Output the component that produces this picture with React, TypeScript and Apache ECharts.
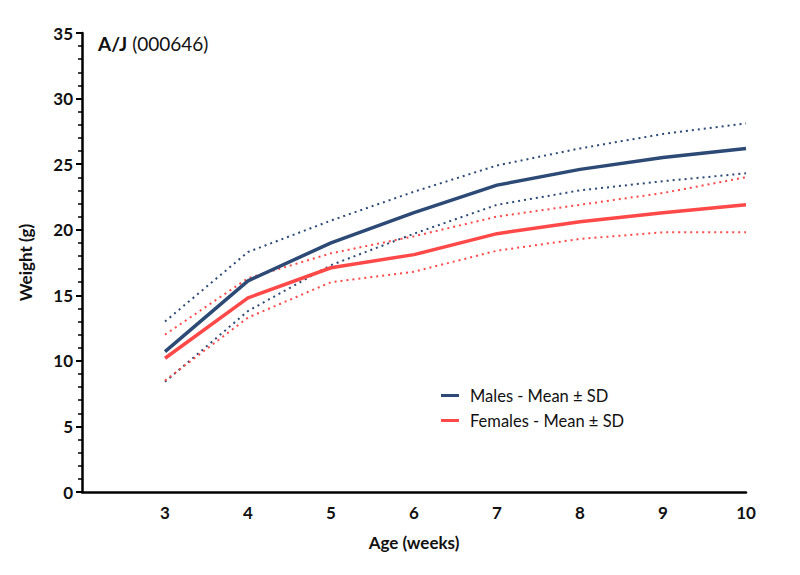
import React, { useEffect, useRef } from "react";
import * as echarts from "echarts";

const ages = [3, 4, 5, 6, 7, 8, 9, 10];
const maleMean = [10.7, 16.1, 19.0, 21.3, 23.4, 24.6, 25.5, 26.2];
const maleUpper = [13.0, 18.3, 20.7, 22.9, 24.9, 26.2, 27.3, 28.1];
const maleLower = [8.4, 13.8, 17.3, 19.7, 21.9, 23.0, 23.7, 24.3];
const femaleMean = [10.2, 14.8, 17.1, 18.1, 19.7, 20.6, 21.3, 21.9];
const femaleUpper = [12.0, 16.3, 18.2, 19.5, 21.0, 21.9, 22.8, 24.0];
const femaleLower = [8.5, 13.3, 16.0, 16.8, 18.4, 19.3, 19.8, 19.8];

const MALE = "#2C4A75";
const FEMALE = "#FF4848";
const FONT = "Lato, 'Open Sans', sans-serif";

const pairs = (ys: number[]) => ages.map((a, i) => [a, ys[i]]);

export default function App() {
  const ref = useRef<HTMLDivElement>(null);
  useEffect(() => {
    if (!ref.current) return;
    const chart = echarts.init(ref.current, null, { renderer: "svg" });
    const dotted = (name: string, data: number[], color: string) => ({
      name,
      type: "line",
      data: pairs(data),
      symbol: "none",
      lineStyle: { color, width: 2, type: [2, 4] },
      z: 2,
    });
    chart.setOption({
      animation: false,
      backgroundColor: "#fff",
      grid: { left: 82, right: 54, top: 33, bottom: 83 },
      title: {
        text: "{b|A/J} {n|(000646)}",
        left: 93,
        top: 29,
        textStyle: {
          rich: {
            b: { fontFamily: FONT, fontWeight: "bold", fontSize: 19, color: "#111" },
            n: { fontFamily: FONT, fontWeight: "normal", fontSize: 19, color: "#111" },
          },
        },
      },
      legend: {
        orient: "vertical",
        left: 436,
        top: 382,
        itemWidth: 18,
        itemHeight: 3,
        itemGap: 8,
        icon: "rect",
        data: ["Males - Mean ± SD", "Females - Mean ± SD"],
        textStyle: { fontFamily: FONT, fontSize: 16.5, color: "#111", padding: [0, 0, 0, 6] },
      },
      xAxis: {
        type: "value",
        min: 2,
        max: 10,
        interval: 1,
        name: "Age (weeks)",
        nameLocation: "middle",
        nameGap: 42,
        nameTextStyle: { fontFamily: FONT, fontWeight: "bold", fontSize: 17, color: "#111" },
        axisLine: { show: true, onZero: false, lineStyle: { color: "#000", width: 2.5 } },
        axisTick: { show: false },
        splitLine: { show: false },
        axisLabel: {
          margin: 12,
          fontFamily: FONT,
          fontWeight: "bold",
          fontSize: 17,
          color: "#111",
          formatter: (v: number) => (v === 2 ? "" : String(v)),
        },
      },
      yAxis: {
        type: "value",
        min: 0,
        max: 35,
        interval: 5,
        name: "Weight (g)",
        nameLocation: "middle",
        nameGap: 48,
        nameTextStyle: { fontFamily: FONT, fontWeight: "bold", fontSize: 17, color: "#111" },
        axisLine: { show: true, lineStyle: { color: "#000", width: 2.5 } },
        axisTick: { show: true, length: 6, lineStyle: { color: "#000", width: 2 } },
        minorTick: { show: true, splitNumber: 5, length: 4, lineStyle: { color: "#000", width: 1.5 } },
        splitLine: { show: false },
        axisLabel: {
          margin: 9,
          fontFamily: FONT,
          fontWeight: "bold",
          fontSize: 17,
          color: "#111",
        },
      },
      series: [
        dotted("Males upper", maleUpper, MALE),
        dotted("Males lower", maleLower, MALE),
        dotted("Females upper", femaleUpper, FEMALE),
        dotted("Females lower", femaleLower, FEMALE),
        {
          name: "Males - Mean ± SD",
          type: "line",
          data: pairs(maleMean),
          symbol: "none",
          itemStyle: { color: MALE },
          lineStyle: { color: MALE, width: 3.5 },
          z: 3,
        },
        {
          name: "Females - Mean ± SD",
          type: "line",
          data: pairs(femaleMean),
          symbol: "none",
          itemStyle: { color: FEMALE },
          lineStyle: { color: FEMALE, width: 3.5 },
          z: 3,
        },
      ],
    });
    return () => chart.dispose();
  }, []);
  return <div ref={ref} style={{ width: 800, height: 575, margin: -8 }} />;
}
